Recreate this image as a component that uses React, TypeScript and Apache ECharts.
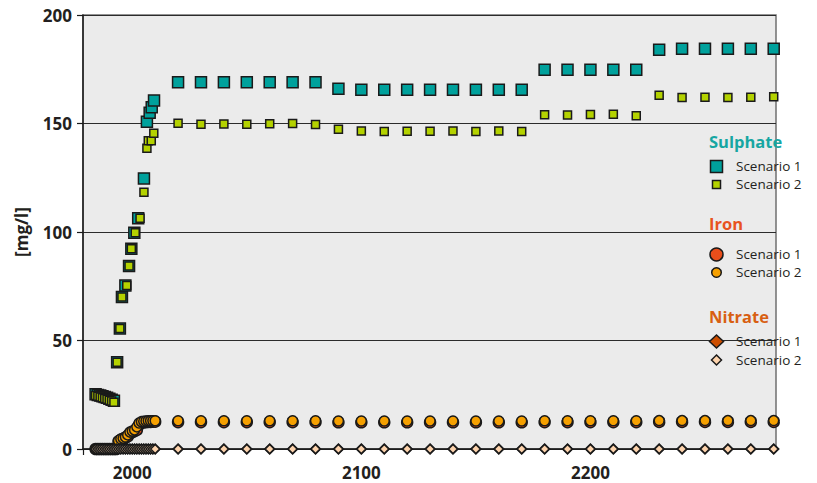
import React, { useEffect, useRef } from 'react';
import * as echarts from 'echarts';

// ---- tick labels ----
const xTickLabels = [2000, 2100, 2200];
const yMin = 0;
const yMax = 200;
const yStep = 50;

// ---- late period (every 10 years) ----
const lateYears = [2020, 2030, 2040, 2050, 2060, 2070, 2080, 2090, 2100, 2110, 2120, 2130, 2140, 2150, 2160, 2170, 2180, 2190, 2200, 2210, 2220, 2230, 2240, 2250, 2260, 2270, 2280];
const sulphateS1Late = [169.0, 169.0, 169.0, 169.0, 169.0, 169.0, 169.0, 166.0, 165.5, 165.5, 165.5, 165.5, 165.5, 165.5, 165.5, 165.5, 174.8, 174.8, 174.8, 174.8, 174.8, 184.0, 184.5, 184.5, 184.5, 184.5, 184.5];
const sulphateS2Late = [150.1, 149.6, 149.8, 149.6, 149.9, 150.0, 149.5, 147.3, 146.5, 146.3, 146.4, 146.4, 146.5, 146.3, 146.6, 146.3, 154.0, 153.9, 154.1, 154.3, 153.6, 163.0, 162.0, 162.1, 162.0, 162.1, 162.3];
const ironS1Late = [12.4, 12.4, 12.4, 12.4, 12.4, 12.4, 12.4, 12.3, 12.3, 12.3, 12.3, 12.3, 12.3, 12.3, 12.3, 12.3, 12.4, 12.4, 12.4, 12.4, 12.4, 12.5, 12.5, 12.5, 12.5, 12.5, 12.5];
const ironS2Late = [13.0, 13.0, 13.0, 13.0, 13.0, 13.0, 13.0, 12.9, 12.9, 12.9, 12.9, 12.9, 12.9, 12.9, 12.9, 12.9, 13.0, 13.0, 13.0, 13.0, 13.0, 13.1, 13.1, 13.1, 13.1, 13.1, 13.1];
const nitrateS1Late = [0, 0, 0, 0, 0, 0, 0, 0, 0, 0, 0, 0, 0, 0, 0, 0, 0, 0, 0, 0, 0, 0, 0, 0, 0, 0, 0];
const nitrateS2Late = [0, 0, 0, 0, 0, 0, 0, 0, 0, 0, 0, 0, 0, 0, 0, 0, 0, 0, 0, 0, 0, 0, 0, 0, 0, 0, 0];

// ---- early period ----
const sulphateS1EarlyYears = [1984, 1985, 1986, 1987, 1988, 1989, 1990, 1991, 1992, 1993.4, 1994.6, 1995.5, 1997.0, 1998.6, 1999.6, 2000.9, 2002.6, 2005.1, 2006.4, 2007.6, 2008.5, 2009.5];
const sulphateS1Early = [25.2, 24.9, 24.6, 24.3, 24.0, 23.6, 23.2, 22.7, 22.2, 40.0, 55.5, 70.0, 75.3, 84.3, 92.3, 99.7, 106.3, 124.7, 150.8, 155.0, 157.5, 160.6];
const sulphateS2EarlyYears = [1984, 1985, 1986, 1987, 1988, 1989, 1990, 1991, 1992, 1993.4, 1994.6, 1995.5, 1997.6, 1998.6, 1999.6, 2001.3, 2003.4, 2005.1, 2006.4, 2007.0, 2008.3, 2009.4];
const sulphateS2Early = [24.6, 24.3, 24.0, 23.6, 23.3, 22.9, 22.5, 22.1, 21.6, 40.0, 55.5, 70.0, 75.3, 84.3, 92.3, 99.7, 106.3, 118.3, 138.6, 142.0, 142.0, 145.5];

const ironEarlyYears = [1984, 1985, 1986, 1987, 1988, 1989, 1990, 1991, 1992, 1993, 1994, 1995, 1996, 1997, 1998, 1999, 2000, 2001, 2002, 2003, 2004, 2005, 2006, 2007, 2008, 2009, 2010];
const ironS1Early = [0, 0, 0, 0, 0, 0, 0, 0, 0, 0, 3.5, 4.2, 4.6, 5.2, 5.8, 7.2, 7.8, 8.2, 8.8, 11.2, 12.0, 12.3, 12.4, 12.5, 12.5, 12.6, 12.6];
const ironS2Early = [0, 0, 0, 0, 0, 0, 0, 0, 0, 0, 3.8, 4.6, 5.0, 5.5, 6.5, 7.8, 8.3, 8.8, 10.2, 12.0, 12.6, 12.8, 12.9, 13.0, 13.0, 13.0, 13.0];

const nitrateEarlyYears = [1984, 1985, 1986, 1987, 1988, 1989, 1990, 1991, 1992, 1993, 1994, 1995, 1996, 1997, 1998, 1999, 2000, 2001, 2002, 2003, 2004, 2005, 2006, 2007, 2008, 2009, 2010];
const nitrateS1Early = [0, 0, 0, 0, 0, 0, 0, 0, 0, 0, 0, 0, 0, 0, 0, 0, 0, 0, 0, 0, 0, 0, 0, 0, 0, 0, 0];
const nitrateS2Early = [0, 0, 0, 0, 0, 0, 0, 0, 0, 0, 0, 0, 0, 0, 0, 0, 0, 0, 0, 0, 0, 0, 0, 0, 0, 0, 0];

const FONT = 'Open Sans, Noto Sans, sans-serif';
const TEXT_COLOR = '#231f20';
const BORDER = '#1a1a1a';

const colors = {
  sulphateTitle: '#16a6a2',
  sulphateS1: '#00a19c',
  sulphateS2: '#b4d200',
  ironTitle: '#e8531f',
  ironS1: '#e94e1b',
  ironS2: '#f6a000',
  nitrateTitle: '#d85f12',
  nitrateS1: '#cc4e00',
  nitrateS2: '#fdd3ac',
};

function pairs(xs: number[], ys: number[]) {
  return xs.map((x, i) => [x, ys[i]]);
}

export default function App() {
  const ref = useRef<HTMLDivElement>(null);
  useEffect(() => {
    if (!ref.current) return;
    const chart = echarts.init(ref.current, undefined, { renderer: 'svg' });

    const mk = (name: string, data: number[][], symbol: string, size: number, color: string) => ({
      name,
      type: 'scatter',
      data,
      symbol,
      symbolSize: size,
      itemStyle: { color, borderColor: BORDER, borderWidth: 1.5, opacity: 1 },
      emphasis: { disabled: true },
    });

    const legendX = 716.5;
    const textX = 736;
    const titleX = 709;
    const legendText = (text: string, y: number) => ({
      type: 'text',
      style: { text, x: textX, y, fill: TEXT_COLOR, font: `13.5px ${FONT}`, verticalAlign: 'middle', textVerticalAlign: 'middle' },
      z: 100,
    });
    const legendTitle = (text: string, y: number, fill: string) => ({
      type: 'text',
      style: { text, x: titleX, y, fill, font: `bold 16.5px ${FONT}`, verticalAlign: 'middle', textVerticalAlign: 'middle' },
      z: 100,
    });
    const mStyle = (fill: string) => ({ fill, stroke: BORDER, lineWidth: 1.5 });
    const diamond = (cx: number, cy: number, w: number, h: number) => [
      [cx, cy - h / 2], [cx + w / 2, cy], [cx, cy + h / 2], [cx - w / 2, cy],
    ];

    const option: any = {
      animation: false,
      backgroundColor: '#ffffff',
      grid: {
        left: 83, right: 41, top: 15, bottom: 34,
        show: true, backgroundColor: '#ebebeb', borderColor: '#707070', borderWidth: 1.5,
      },
      xAxis: {
        type: 'value',
        min: 1978.5,
        max: 2281,
        axisLine: { show: true, onZero: false, lineStyle: { color: BORDER, width: 1.5 } },
        axisTick: { show: true, customValues: [1978.5], length: 6, lineStyle: { color: BORDER, width: 1.2 } },
        axisLabel: {
          customValues: xTickLabels,
          formatter: (v: number) => String(v),
          fontSize: 17, fontWeight: 'bold', fontFamily: FONT, color: TEXT_COLOR, margin: 15,
        },
        splitLine: { show: false },
      },
      yAxis: {
        type: 'value',
        min: yMin,
        max: yMax,
        interval: yStep,
        name: '[mg/l]',
        nameLocation: 'middle',
        nameRotate: 90,
        nameGap: 53,
        nameTextStyle: { fontSize: 17, fontWeight: 'bold', fontFamily: FONT, color: TEXT_COLOR },
        axisLine: { show: true, lineStyle: { color: BORDER, width: 1.5 } },
        axisTick: { show: true, length: 6, lineStyle: { color: BORDER, width: 1.2 } },
        axisLabel: { formatter: (v: number) => String(v), fontSize: 17, fontWeight: 'bold', fontFamily: FONT, color: TEXT_COLOR, margin: 11 },
        splitLine: { show: true, lineStyle: { color: '#2b2b2b', width: 1 } },
      },
      series: [
        mk('Sulphate Scenario 1', pairs(sulphateS1EarlyYears, sulphateS1Early).concat(pairs(lateYears, sulphateS1Late)), 'rect', 11, colors.sulphateS1),
        mk('Sulphate Scenario 2', pairs(sulphateS2EarlyYears, sulphateS2Early).concat(pairs(lateYears, sulphateS2Late)), 'rect', 8, colors.sulphateS2),
        mk('Iron Scenario 1', pairs(ironEarlyYears, ironS1Early).concat(pairs(lateYears, ironS1Late)), 'circle', 11, colors.ironS1),
        mk('Iron Scenario 2', pairs(ironEarlyYears, ironS2Early).concat(pairs(lateYears, ironS2Late)), 'circle', 10, colors.ironS2),
        mk('Nitrate Scenario 1', pairs(nitrateEarlyYears, nitrateS1Early).concat(pairs(lateYears, nitrateS1Late)), 'diamond', 10, colors.nitrateS1),
        mk('Nitrate Scenario 2', pairs(nitrateEarlyYears, nitrateS2Early).concat(pairs(lateYears, nitrateS2Late)), 'diamond', 9, colors.nitrateS2),
      ],
      graphic: [
        legendTitle('Sulphate', 141, colors.sulphateTitle),
        { type: 'rect', shape: { x: legendX - 6, y: 166.5 - 6, width: 12, height: 12 }, style: mStyle(colors.sulphateS1), z: 100 },
        legendText('Scenario 1', 165.5),
        { type: 'rect', shape: { x: legendX - 4, y: 184.5 - 4, width: 8, height: 8 }, style: mStyle(colors.sulphateS2), z: 100 },
        legendText('Scenario 2', 184),
        legendTitle('Iron', 223, colors.ironTitle),
        { type: 'circle', shape: { cx: legendX, cy: 254.5, r: 6.5 }, style: mStyle(colors.ironS1), z: 100 },
        legendText('Scenario 1', 253.5),
        { type: 'circle', shape: { cx: legendX, cy: 272.5, r: 4.8 }, style: mStyle(colors.ironS2), z: 100 },
        legendText('Scenario 2', 272),
        legendTitle('Nitrate', 316, colors.nitrateTitle),
        { type: 'polygon', shape: { points: diamond(legendX, 341.5, 14, 13) }, style: mStyle(colors.nitrateS1), z: 100 },
        legendText('Scenario 1', 340.5),
        { type: 'polygon', shape: { points: diamond(legendX, 360, 10, 10) }, style: mStyle(colors.nitrateS2), z: 100 },
        legendText('Scenario 2', 359.5),
      ],
    };
    chart.setOption(option);
    return () => chart.dispose();
  }, []);
  return <div ref={ref} style={{ position: 'fixed', left: 0, top: 0, width: 817, height: 483 }} />;
}
